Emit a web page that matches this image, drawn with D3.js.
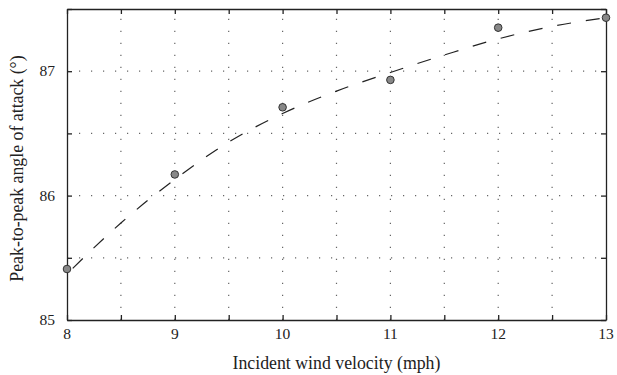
<!DOCTYPE html>
<html>
<head>
<meta charset="utf-8">
<script src="https://cdn.jsdelivr.net/npm/d3@7"></script>
<style>
  body { margin: 0; background: #fff; }
</style>
</head>
<body>
<script>
// measured points
const velocity = [8, 9, 10, 11, 12, 13];
const angle = [85.41, 86.17, 86.71, 86.93, 87.35, 87.43];

// fitted curve (dashed)
const fitX = [8, 8.5, 9, 9.5, 10, 10.5, 11, 11.5, 12, 12.5, 13];
const fitY = [85.37, 85.78, 86.13, 86.43, 86.66, 86.84, 86.99, 87.13, 87.26, 87.36, 87.43];

const xTicks = [8, 9, 10, 11, 12, 13];
const yTicks = [85, 86, 87];
const xGrid = d3.range(8, 13.01, 0.5);
const yGrid = d3.range(85, 87.51, 0.5);

const W = 617, H = 375;
const m = { left: 67, right: 11, top: 9, bottom: 55 };
const serif = "Liberation Serif";

const svg = d3.select("body").append("svg")
    .attr("width", W)
    .attr("height", H);

const x = d3.scaleLinear().domain([8, 13]).range([m.left, W - m.right]);
const y = d3.scaleLinear().domain([85, 87.5]).range([H - m.bottom, m.top]);

// dotted grid
const grid = svg.append("g").attr("stroke", "#666").attr("stroke-width", 1.2)
    .attr("stroke-dasharray", "1.2,10.8");
grid.selectAll(".gx").data(xGrid.slice(1, -1)).enter().append("line")
    .attr("x1", d => x(d)).attr("x2", d => x(d))
    .attr("y1", y(85)).attr("y2", y(87.5));
grid.selectAll(".gy").data(yGrid.slice(1, -1)).enter().append("line")
    .attr("x1", x(8)).attr("x2", x(13))
    .attr("y1", d => y(d)).attr("y2", d => y(d));

// axes, ticks pointing inward on all four sides
const tick = 5;
svg.append("g").attr("transform", `translate(0,${y(85)})`)
    .call(d3.axisBottom(x).tickValues(xGrid).tickSizeInner(-tick).tickSizeOuter(0).tickFormat(""));
svg.append("g").attr("transform", `translate(0,${y(87.5)})`)
    .call(d3.axisTop(x).tickValues(xGrid).tickSizeInner(-tick).tickSizeOuter(0).tickFormat(""));
svg.append("g").attr("transform", `translate(${x(8)},0)`)
    .call(d3.axisLeft(y).tickValues(yGrid).tickSizeInner(-tick).tickSizeOuter(0).tickFormat(""));
svg.append("g").attr("transform", `translate(${x(13)},0)`)
    .call(d3.axisRight(y).tickValues(yGrid).tickSizeInner(-tick).tickSizeOuter(0).tickFormat(""));
svg.selectAll(".domain, .tick line").attr("stroke", "#222").attr("stroke-width", 1.3);

// tick labels
svg.append("g").selectAll("text").data(xTicks).enter().append("text")
    .attr("x", d => x(d)).attr("y", y(85) + 19)
    .attr("text-anchor", "middle").attr("font-size", 15.5)
    .attr("font-family", serif).attr("fill", "#222")
    .text(d => d);
svg.append("g").selectAll("text").data(yTicks).enter().append("text")
    .attr("x", x(8) - 12).attr("y", d => y(d) + 5)
    .attr("text-anchor", "end").attr("font-size", 15.5)
    .attr("font-family", serif).attr("fill", "#222")
    .text(d => d);

// fit curve
const line = d3.line().x(d => x(d[0])).y(d => y(d[1])).curve(d3.curveMonotoneX);
svg.append("path")
    .datum(fitX.map((v, i) => [v, fitY[i]]))
    .attr("d", line)
    .attr("fill", "none")
    .attr("stroke", "#222")
    .attr("stroke-width", 1.2)
    .attr("stroke-dasharray", "14,15")
    .attr("stroke-dashoffset", -8);

// measured points
svg.append("g").selectAll("circle").data(velocity).enter().append("circle")
    .attr("cx", d => x(d))
    .attr("cy", (d, i) => y(angle[i]))
    .attr("r", 3.8)
    .attr("fill", "#888")
    .attr("stroke", "#333")
    .attr("stroke-width", 1);

// axis titles
svg.append("text")
    .attr("x", (x(8) + x(13)) / 2).attr("y", 369)
    .attr("text-anchor", "middle").attr("font-size", 17.8)
    .attr("font-family", serif).attr("fill", "#222")
    .text("Incident wind velocity (mph)");
svg.append("text")
    .attr("transform", `translate(23,${(y(85) + y(87.5)) / 2 + 4}) rotate(-90)`)
    .attr("text-anchor", "middle").attr("font-size", 17.8)
    .attr("font-family", serif).attr("fill", "#222")
    .text("Peak-to-peak angle of attack (°)");
</script>
</body>
</html>
